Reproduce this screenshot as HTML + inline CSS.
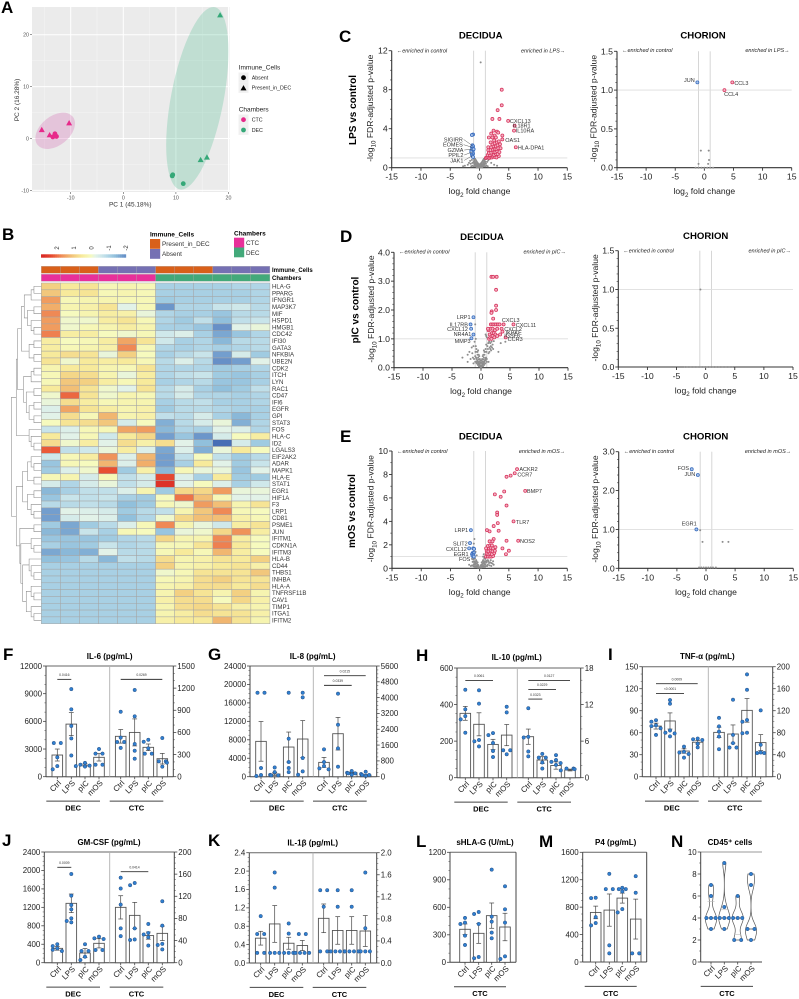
<!DOCTYPE html>
<html lang="en">
<head>
<meta charset="utf-8">
<title>Figure panels A-N</title>
<style>
html,body{margin:0;padding:0;background:#fff;width:799px;height:999px;overflow:hidden}
svg{display:block;filter:blur(0.3px);font-family:"Liberation Sans",Arial,sans-serif}
</style>
</head>
<body>
<svg id="fig" xmlns="http://www.w3.org/2000/svg" width="799" height="999" viewBox="0 0 799 999"></svg>
<script>
/* ---------- PANEL A DATA (PC1, PC2) ---------- */
const pcaCtcTriangles=[[-15.5,1.7],[-14,0.7],[-10.3,3]];
const pcaCtcCircles=[[-13.4,0.3],[-12.7,0.4],[-13,0.9]];
const pcaDecTriangles=[[18.4,23.8],[14.7,-4.1],[15.9,-3.6]];
const pcaDecCircles=[[9.3,-7.2],[9.4,-7],[11.4,-8.7]];
const pcaXTicks=[-10,0,10,20];
const pcaYTicks=[-10,0,10,20];

/* ---------- PANEL B DATA ---------- */
const geneNames=["HLA-G","PPARG","IFNGR1","MAP3K7","MIF","HSPD1","HMGB1","CDC42","IFI30","GATA3","NFKBIA","UBE2N","CDK2","ITCH","LYN","RAC1","CD47","IFI6","EGFR","GPI","STAT3","FOS","HLA-C","ID2","LGALS3","EIF2AK2","ADAR","MAPK1","HLA-E","STAT1","EGR1","HIF1A","F3","LRP1","CD81","PSME1","JUN","IFITM1","CDKN1A","IFITM3","HLA-B","CD44","THBS1","INHBA","HLA-A","TNFRSF11B","CAV1","TIMP1","ITGA1","IFITM2"];
const heatValues=[
[1,.6,.7,.2,.3,.2,-1,-1,-1,-1,-.9,-.9],
[1.1,.6,.7,.2,.3,.2,-1,-1,-1,-1,-1,-.9],
[1.6,.2,.3,.3,.2,.2,-1.1,-1,-1,-1,-1,-.9],
[1.4,.3,.4,.7,-.2,.2,-1.8,-.9,-.9,-.6,-.5,-.8],
[1.8,.1,.3,.5,.4,-.1,-.9,-1,-1,-1.2,-.8,-.8],
[1.6,0,0,.5,.7,.2,-.9,-1.1,-.7,-1.3,-.7,-.6],
[1.6,0,.2,.3,.5,.3,-1,-1,-1.2,-1.9,-.2,-.1],
[1.9,.5,.5,.1,0,.2,-.5,-.3,-1,-1.6,-1.2,-.9],
[.5,.1,.2,.5,1.5,.7,-.5,-1,-.9,-1.4,-.8,-.8],
[.5,.2,.3,.4,1.8,.2,-.9,-1,-.9,-1,-.9,-.8],
[.6,.8,.7,-.1,1,.1,-1,-.8,-.6,-1.7,-.4,-1.1],
[.7,0,.6,.5,.6,.2,-.8,-.3,-.8,-1.9,-1.7,-.2],
[.3,.6,.6,.3,.2,.7,-.9,-.9,-.9,-1.1,-1,-.9],
[.2,.9,.8,.3,-.1,.5,-.9,-.7,-.6,-1.1,-1.2,-1],
[.2,1.1,1,.5,.2,.6,-1,-.9,-.8,-1.2,-1.2,-1],
[.6,1.2,.7,0,-.2,.7,-.8,-.4,-1,-1.3,-1.1,-.7],
[0,2.1,.7,0,.3,.2,-.8,-.4,-.9,-.9,-1,-.9],
[-.1,.8,.5,.2,.3,.3,-1,-.8,-.7,-1,-1,-.9],
[-.3,1.5,.7,.5,.3,.4,-1.1,-.8,-.8,-.9,-1,-1],
[-.2,.8,.2,1.3,.3,.4,-.7,-.8,-.4,-1,-1.4,-1],
[.1,.7,.8,1.1,-.4,.1,-1.5,-.8,-.4,-.1,-1.5,-.9],
[-.6,-.3,.2,.2,1.5,1.6,-1.4,-.9,-1,-.2,-.3,-.9],
[.6,-.2,.2,-.5,.6,.9,-1.7,-1.2,-1.8,-.4,.1,.5],
[.8,0,.5,-.2,.8,.4,.8,-.2,-1.3,-2.5,-.4,-1.1],
[2.2,-.7,-.5,-.1,.5,-.3,-1.6,-.3,-1.5,-.1,.6,.1],
[-.5,.2,.5,1.7,-.3,1.3,-1.7,-.7,.1,-.7,-1.1,-.8],
[-1.2,.2,.1,1.3,-.3,1.4,-1.7,-1,.6,-.2,-1.1,-.6],
[-1.1,-.3,0,2.3,-1.1,.4,-1.4,.2,-.1,-.1,-1.2,-.2],
[.2,.3,-.4,.2,-.7,-.4,2.4,-.3,-1,.6,-1.1,-1.1],
[-.4,-.9,-.4,-.1,-.7,-.4,2.7,-.2,.1,-.3,-1,-.5],
[-1.4,-1,-.7,-.7,-.3,.3,-1.1,.9,.9,1.6,-.1,-.1],
[-1.2,-.6,-.7,-.6,-1,-1.1,.1,2,1.2,.2,-.2,-.2],
[-.8,-.8,-.7,-.8,-1.3,-1.1,.2,0,1.6,1.2,.3,.7],
[-1.7,-.2,-.3,-.4,-1.1,-.8,-.7,.3,1.1,1.8,.2,.1],
[-1.7,-.4,-.2,-.3,-1.3,-.9,0,.9,1.2,1.2,.4,.2],
[-1.1,-1.6,-1.1,-.8,-.3,.2,1.8,.3,-.1,-.5,.5,.7],
[-1.4,-1.6,-.6,-1,.2,.1,-1.2,-.1,0,.9,1.7,.5],
[-1.2,-1.2,-1.2,-1.1,-.9,-.8,.9,.3,.3,1.8,.5,.1],
[-1,-1.2,-1.1,-.6,-.9,-.8,.2,.2,.7,1.9,.6,.1],
[-1.6,-1.4,-1.5,-.2,-.8,-.8,.2,.6,.2,1.3,.5,.1],
[-1.3,-1.2,-.8,-1.4,-.7,-.8,.8,.3,.4,.7,.6,1],
[-1,-1,-1,-1,-1,-1,1,.3,.4,.6,.7,.4],
[-1,-1,-1,-1,-1,-1,0,.2,.7,.7,.7,1.1],
[-1,-1,-1,-1,-1,-1,.2,.3,.8,1,.7,.7],
[-1,-1,-1,-1,-1,-1,.3,.4,.8,.8,.6,.8],
[-1,-1,-1,-1,-1,-1,.3,1,.7,.3,1,.3],
[-1,-1,-1,-1,-1,-1,.4,.8,.8,.1,.9,.4],
[-1,-1,-1,-1,-1,-1,.3,.8,.9,.7,.4,.3],
[-1,-1,-1,-1,-1,-1,.3,.5,.8,.7,.7,.4],
[-1,-1,-1,-1,-1,-1,.4,.6,.6,1.3,.7,.3]];
const immuneGroups=["P","P","P","A","A","A","P","P","P","A","A","A"];
const chamberGroups=["C","C","C","C","C","C","D","D","D","D","D","D"];
const heatLegendTicks=[2,1,0,-1,-2];
const clusterA="(((..).)((..)(.(..))))";
const clusterB="((..)(..))";
const clusterC="(((..).)((..)((..)(..))))";
const clusterD="(.(.(..)))";
const clusterE="((.(..))(..))";
const clusterF="((..)(.(..)))";
const clusterG="((..)((.(..))((.(.(..)))((.(..))(.(..))))))";
const dendrogram="(((("+clusterA+clusterB+")"+clusterC+")"+clusterD+")"+"(("+clusterE+clusterF+")"+clusterG+"))";

/* ---------- VOLCANO DATA (log2FC, -log10 p) ---------- */
const lpsDecGray=[[-.1,.05],[.1,.05],[-.2,.1],[.2,.1],[-.3,.15],[.3,.15],[-.15,.02],[.15,.02],[-.4,.2],[.4,.2],[-.5,.3],[.5,.25],[-.6,.4],[.6,.35],[-.7,.5],[.7,.5],[-.8,.6],[.8,.65],[-.9,.75],[.9,.8],[.95,1],[-.95,.9],[-.3,.3],[.3,.3],[0,.02],[-.5,.1],[.5,.1],[1.1,.4],[1.3,.6],[1.5,.75],[1.2,.9],[1.6,.95],[-1.2,.5],[-1.5,.4],[-1.8,.5],[-2,.3],[-2.5,.2],[-1.3,.8],[-1.6,.7],[-2.8,.15],[2,.5],[2.5,.3],[3,.2],[-.6,.15],[.6,.15],[-.8,.3],[.8,.3],[.2,10.8],[-.05,.15],[.05,.15],[-.1,.25],[.1,.25],[-.2,.3],[.2,.3],[-.25,.45],[.25,.45],[-.35,.5],[.35,.5],[-.45,.6],[.45,.6],[-.55,.7],[.55,.7],[-.65,.8],[.65,.8],[-.75,.9],[.75,.9],[-.85,.35],[.85,.4],[-.15,.35],[.15,.4],[-.4,.35],[.4,.4],[-.6,.25],[.6,.25],[-1,.15],[1,.15],[-1.2,.2],[1.2,.2],[-1.4,.15],[1.4,.15],[-1,.6],[1,.6],[-.9,.45],[.9,.45],[-.7,.15],[.7,.15],[-.3,.05],[.3,.05],[-.45,.03],[.45,.03]];
const lpsDecRed=[[3.8,8],[3.8,6.4],[3.1,5.9],[2.2,5],[3.4,5],[4.9,4.8],[6,4.3],[5.9,3.8],[3.9,3.3],[3.9,2.9],[6.2,2.1],[2.4,3.8],[3,3.7],[3.2,3.6],[2,3.5],[2.6,3.3],[1.6,3.1],[2.2,3.1],[2.8,3.1],[1.1,1],[1.3,1.05],[1.5,1.1],[1.7,1],[1.9,1.1],[2.1,1.05],[2.3,1.15],[2.6,1.1],[2.9,1.05],[3.3,1.2],[1.4,1.3],[1.8,1.3],[2.2,1.35],[2.5,1.3],[2.8,1.4],[3.1,1.4],[1.6,1.5],[2,1.55],[2.4,1.6],[2.7,1.6],[3,1.7],[3.4,1.6],[1.5,1.8],[1.9,1.8],[2.3,1.85],[2.6,1.9],[2.9,1.9],[3.2,2],[3.6,2],[1.5,2.1],[2,2.1],[2.4,2.2],[2.8,2.2],[3.1,2.3],[3.5,2.4],[2.2,2.4],[2.6,2.5],[3,2.6],[3.3,2.7],[1.9,2.6],[2.5,2.8]];
const lpsDecBlue=[[-1.1,3.4],[-1.3,3.35],[-1.2,2.3],[-1.1,2.2],[-1.3,2.1],[-1.2,1.95],[-1.1,1.8],[-1.4,1.75],[-1.2,1.6],[-1.1,1.45],[-1.3,1.35],[-1.2,1.2],[-1.1,1.1],[-1.4,1.6],[-1,1.9]];
const lpsDecLabels=[["CXCL13",5.2,4.8,"start"],["IL18R1",5.7,4.3,"start"],["IL10RA",6.2,3.8,"start"],["OAS1",4.4,2.85,"start"],["HLA-DPA1",6.55,2.05,"start"],["SIGIRR",-2.85,2.9,"end",-1.3,2.3],["EOMES",-2.85,2.36,"end",-1.3,2.1],["GZMA",-2.75,1.81,"end",-1.3,1.9],["PPIL2",-2.75,1.3,"end",-1.3,1.6],["JAK1",-2.75,.75,"end",-1.3,1.2]];
const lpsChoGray=[[-.6,.22],[.75,.22],[.8,.1],[-1,.05],[.65,.05],[-1.5,0],[-1,0],[-.5,0],[0,0],[.5,0],[1,0],[1.5,0]];
const lpsChoRed=[[4.8,1.1],[3.45,1]];
const lpsChoBlue=[[-1.2,1.1]];
const lpsChoLabels=[["JUN",-1.65,1.13,"end"],["CCL3",5.15,1.09,"start"],["CCL4",3.4,.95,"start"]];
const picDecGray=[[0,.03],[-.1,.08],[.1,.08],[-.2,.14],[.2,.14],[-.3,.2],[.3,.2],[-.1,.25],[.1,.25],[-.4,.28],[.4,.28],[-.5,.35],[.5,.35],[-.3,.4],[.3,.4],[-.6,.45],[.6,.45],[-.7,.55],[.7,.55],[-.5,.6],[.5,.6],[-.8,.65],[.8,.65],[-.9,.75],[.9,.8],[-3.2,.35],[-2.3,.45],[-2,.55],[-1.6,.7],[-1.3,.75],[-1.1,.9],[-1.5,.5],[-1,.4],[-1.2,.3],[-.8,.2],[.8,.25],[1,.3],[1.3,.5],[1.2,.65],[1.5,.7],[1.7,.75],[1.9,.7],[2,.8],[1.6,.85],[1.8,.9],[2.1,.65],[2.2,.92],[1.4,.9],[3.4,.85],[4.2,.9],[3,.55],[.9,1.1],[1,1.05],[.8,1.15],[-1,1.5],[-.9,1],[-.05,.02],[.05,.02],[-.15,.05],[.15,.05],[-.25,.08],[.25,.08],[-.35,.12],[.35,.12],[-.45,.16],[.45,.16],[-.55,.2],[.55,.2],[-.65,.25],[.65,.25],[-.75,.3],[.75,.3],[-.85,.35],[.85,.35],[-.2,.3],[.2,.3],[-.4,.45],[.4,.45],[-.6,.55],[.6,.55],[-.05,.18],[.05,.18],[-.35,.05],[.35,.05],[-.55,.1],[.55,.1],[-.75,.15],[.75,.15],[-1,.2],[1,.2],[-1.3,.15],[1.3,.2],[-.95,.55],[.95,.55],[1.1,.75],[1.25,.85],[1.45,.55],[1.75,.6],[1.6,.65],[-1.4,.35],[-1.8,.3],[-2.3,.2]];
const picDecRed=[[1.8,3.15],[2.1,3.15],[2.7,3.15],[2.6,2.7],[2.6,2.15],[2.6,2],[1.85,1.95],[1.8,1.9],[2.1,1.7],[3.9,1.5],[5.6,1.5],[3.55,1.35],[3.7,1.25],[3.3,1.15],[4.25,1.05],[1.4,1],[1.6,1.05],[1.8,1],[2,1.1],[2.3,1.05],[1.5,1.15],[1.9,1.2],[2.2,1.2],[2.5,1.15],[2.8,1.1],[1.3,1.3],[1.6,1.35],[2,1.35],[2.4,1.3],[2.8,1.35],[1.2,1.35],[1.7,1.5],[2,1.5],[2.3,1.5],[2.6,1.5],[2.9,1.5],[3.2,1.5]];
const picDecBlue=[[-1.3,1.75],[-1.8,1.5],[-1.7,1.35],[-1.3,1.15],[-1.65,1.02]];
const picDecLabels=[["LRP1",-1.8,1.76,"end"],["IL17RB",-2.25,1.5,"end"],["CXCL12",-2.25,1.34,"end"],["NR4A1",-1.67,1.17,"end"],["MMP3",-1.8,.92,"end"],["CXCL3",3.6,1.65,"start"],["CXCL11",6,1.48,"start"],["CXCL2",4,1.34,"start"],["IKBKE",4.25,1.22,"start"],["IGSF6",4,1.12,"start"],["CCR3",4.6,.99,"start"]];
const picChoGray=[[-.9,1],[-3.5,0],[-3,0],[-2.5,0],[-2,0],[-1.5,0],[-1,0],[-.5,0],[0,0],[.5,0],[1,0],[1.5,0],[2,0],[2.5,0],[3,0],[3.5,0],[4,0],[4.5,0]];
const picChoRed=[];
const picChoBlue=[];
const picChoLabels=[];
const mosDecGray=[[0,.05],[-.2,.1],[.2,.1],[-.4,.15],[.4,.15],[-.6,.2],[.6,.2],[-.8,.3],[.8,.3],[-1,.35],[1,.35],[-.3,.3],[.3,.3],[-.5,.4],[.5,.4],[-.7,.5],[.7,.5],[-.9,.6],[.9,.6],[-1.2,.55],[1.2,.5],[-.6,.7],[.6,.7],[-.8,.85],[.8,.85],[-.9,.95],[.9,.95],[1.4,.3],[1.7,.25],[2,.2],[2.4,.3],[1.5,.6],[1.9,.7],[2.3,.6],[-1.5,.2],[-1.8,.3],[-1.3,.8],[-.9,2.5],[-1,2.1],[-.7,1.4],[.6,1],[.7,1.2],[-.5,1.1],[-.1,.1],[.1,.1],[-.3,.08],[.3,.08],[-.5,.12],[.5,.12],[-.7,.12],[.7,.12],[-.9,.15],[.9,.15],[-1.1,.2],[1.1,.2],[-1.3,.25],[1.3,.2],[-.2,.25],[.2,.25],[-.4,.3],[.4,.3],[-.6,.4],[.6,.4],[-.8,.45],[.8,.45],[-1,.55],[1,.55],[1.2,.65],[1.4,.7],[1.6,.45],[1.8,.5],[2,.45],[2.2,.4],[-1.1,.75],[-.95,.8],[.95,.8],[-.35,.5],[.35,.5],[-.55,.6],[.55,.6]];
const mosDecRed=[[6.4,8.45],[6,8.1],[5.3,7.9],[4.6,7.8],[7.8,6.6],[4.2,6.55],[2.6,6.3],[3.6,6.1],[4.6,5.35],[3,4.75],[3,4.55],[5.8,4],[3.1,3.85],[2.4,3.6],[1.25,3.25],[1.7,3.15],[3.25,3.2],[2.4,2.5],[6.6,2.35],[4.6,2.35],[1.7,2.3],[2.2,2.3],[3.9,1.7],[5,1.5],[4.5,1.2],[1.1,1],[1.4,1],[1.7,1],[2,1],[2.3,1.05],[1.2,1.25],[1.5,1.2],[1.8,1.25],[2.1,1.2],[2.5,1.3],[1.2,1.5],[1.5,1.45],[1.9,1.5],[2.2,1.45],[2.6,1.5],[1.1,1.7],[1.6,1.7],[1.9,1.75],[2.3,1.7],[2.7,1.8],[1.4,1.9],[1.8,1.95],[2.1,1.95]];
const mosDecBlue=[[-1.5,3.25],[-1.65,2.15],[-1.8,1.7],[-1.1,1.7],[-.95,1.65],[-1.2,1.3],[-1,1.3],[-1.3,1.2],[-1.1,1.15],[-1.2,1.05],[-1,1]];
const mosDecLabels=[["ACKR2",6.8,8.44,"start"],["CCR7",6.45,8,"start"],["BMP7",8.1,6.6,"start"],["TLR7",6.2,3.92,"start"],["NOS2",6.9,2.3,"start"],["LRP1",-1.95,3.24,"end"],["SLIT2",-2.05,2.1,"end"],["CXCL12",-2.2,1.65,"end"],["EGR1",-1.9,1.22,"end"],["FOS",-1.6,.77,"end"]];
const mosChoGray=[[-1,.98],[-.6,.68],[2.85,.68],[3.85,.68],[-1.2,.02],[-.8,.02],[-.4,.02],[0,.02],[.4,.02],[.8,.02],[1.2,.02],[1.7,.02]];
const mosChoRed=[];
const mosChoBlue=[[-2.45,2.55],[-1.4,2.4],[-1.65,1]];
const mosChoLabels=[["FOS",-2.9,2.58,"end"],["JUN",-1.85,2.42,"end"],["EGR1",-1.6,1.15,"end"]];
const volcanoXTicks=[-15,-10,-5,0,5,10,15];
const lpsDecYTicks=[0,4,8,12];
const lpsChoYTicks=[0,.5,1,1.5];
const picDecYTicks=[0,1,2,3,4];
const picChoYTicks=[0,.5,1,1.5];
const mosDecYTicks=[0,2,4,6,8,10];
const mosChoYTicks=[0,1,2,3];

/* ---------- BAR CHART DATA ---------- */
const conditionLabels=["Ctrl","LPS","pIC","mOS"];
const il6Means=[2350,5700,1250,2100,547,600,398,244];
const il6Sems=[650,1250,150,400,92,183,45,72];
const il6Points=[[3650,3650,2100,1150,800],[9500,7300,5500,4150,2300],[1500,1300,1200,1150,1100],[3000,2500,2500,1300,1300],[880,530,470,470,390],[1175,818,443,352,244],[500,473,384,312,312],[524,208,208,190,136]];
const il6LeftTicks=[0,3000,6000,9000,12000];
const il6RightTicks=[0,300,600,900,1200,1500];
const il6Brackets=[[0,1,10550,"0.0416"],[4,7,10550,"0.0269"]];
const il8Means=[7660,580,6430,8170,725,2175,200,85];
const il8Sems=[4300,300,3250,4000,253,825,30,25];
const il8Points=[[18200,18200,1880,360,150],[2000,1000,400,300,300],[18200,8240,3180,1880,1000],[18200,17200,4050,1150,430],[1383,742,540,421,371],[4200,2630,1433,506],[287,200,170,170,100],[250,135,85,85,35]];
const il8LeftTicks=[0,4000,8000,12000,16000,20000,24000];
const il8RightTicks=[0,800,1600,2400,3200,4000,4800,5600];
const il8Brackets=[[4,7,21900,"0.0215"],[4,6,19800,"0.0339"]];
const il10Means=[352,292,182,233,6.73,2.9,2,1.26];
const il10Sems=[38,63,28,58,1.25,.55,.6,.15];
const il10Points=[[481,374,337,319,246],[478,405,206,199,171],[244,233,190,146,113],[388,357,150,150,128],[11.4,6.7,6.6,4.3,3.5],[3.9,3.3,3.3,2.5,1.5],[3.7,2.9,2.6,2.4,2.1],[1.5,1.5,1.4,1.2]];
const il10LeftTicks=[0,200,400,600];
const il10RightTicks=[0,6,12,18];
const il10Brackets=[[0,2,532,"0.0061"],[4,7,532,"0.0127"],[4,6,483,"0.0229"],[4,5,430,"0.0323"]];
const tnfMeans=[69,76,35,47,80.6,77.6,120.6,62];
const tnfSems=[4,11,3,2.3,9.5,16.5,21.5,14.5];
const tnfPoints=[[77,75,70,69,66,57],[104.5,99.5,63,60,59,55],[41,34,33,31,26],[52,51,50,45,40],[107,91.5,82,73,50],[140,76,61,53,53],[186,158,103,100,80,79],[120.6,58,44,43,43]];
const tnfLeftTicks=[0,30,60,90,120,150];
const tnfRightTicks=[0,40,80,120,160,200];
const tnfBrackets=[[0,3,126.8,"0.0009"],[0,2,113.6,"<0.0001"]];
const gmcsfMeans=[311,1287,210,420,100,85.5,49,53];
const gmcsfSems=[40,202,97,100,21,23.5,6.5,13];
const gmcsfPoints=[[400,360,311,280,253],[1923,1453,1250,1157,962,904,875],[400,253,253,130,58],[564,528,513,275,275],[153.6,134,105,62,48],[144,140,62,42,41],[70,53.6,51,46,31],[111,67,34,32,24]];
const gmcsfLeftTicks=[0,400,800,1200,1600,2000,2400];
const gmcsfRightTicks=[0,40,80,120,160,200];
const gmcsfBrackets=[[0,1,2068,"0.0009"],[4,6,1973,"0.0414"]];
const il1bMeans=[.54,.85,.43,.38,.81,.59,.59,.58];
const il1bSems=[.15,.4,.13,.11,.26,.25,.25,.28];
const il1bPoints=[[1.02,.63,.63,.22,.22],[1.97,1.64,.22,.22,.22],[.86,.64,.22,.22,.22],[.63,.63,.22,.22,.22,.22],[1.32,1.32,1.02,.21,.21],[1.32,1.02,.21,.21,.21,.21],[1.32,1.02,.21,.21,.21,.21],[1.64,.63,.21,.21,.21]];
const il1bLeftTicks=[0,.4,.8,1.2,1.6,2,2.4];
const il1bRightTicks=[0,.4,.8,1.2,1.6,2];
const il1bBrackets=[];
const shlagMeans=[360,316,509,385];
const shlagSems=[58,109,138,150];
const shlagPoints=[[484,433,418,291,189],[549,527,418,58,44],[1011,498,444,324,262],[829,578,433,65,36]];
const shlagLeftTicks=[0,300,600,900,1200];
const p4Means=[723,757,932,626];
const p4Sems=[92,235,73,291];
const p4Points=[[937,932,655,568,534],[1286,1063,1063,243,126],[1082,1063,1063,1029,772,723],[1252,1010,126,126]];
const p4LeftTicks=[0,400,800,1200,1600];
const cd45Points=[[7,6,4,4,4,3],[9,5,4,4,4,3],[6,4,4,4,2,2],[8,7,3,3,2]];
const cd45Ticks=[0,2,4,6,8,10];

/* ---------- HELPERS ---------- */
const NS="http://www.w3.org/2000/svg";
const fig=document.getElementById("fig");
function el(tag,attrs,parent){
  const e=document.createElementNS(NS,tag);
  for(const k in attrs)e.setAttribute(k,attrs[k]);
  (parent||fig).appendChild(e);
  return e;
}
function group(name,parent){
  const g=el("g",{},parent);
  
  
  return g;
}
function linear(d0,d1,r0,r1){return v=>r0+(v-d0)*(r1-r0)/(d1-d0);}
function txt(parent,name,x,y,str,o){
  o=o||{};
  const s=o.size||8;
  const a={x:x,y:y+0.35*s,"font-size":s,fill:o.fill||"#222","text-anchor":o.anchor||"middle"};
  if(o.weight)a["font-weight"]=o.weight;
  if(o.italic)a["font-style"]="italic";
  if(o.rot!==undefined)a.transform="rotate("+o.rot+" "+x+" "+y+")";
  const t=el("text",a,parent);
  
  
  t.textContent=str;
  return t;
}
function ln(parent,name,x1,y1,x2,y2,stroke,w){
  const l=el("line",{x1:x1,y1:y1,x2:x2,y2:y2,stroke:stroke,"stroke-width":w},parent);
  
  
  return l;
}
function panelLetter(letter,x,y){
  const t=el("text",{x:x,y:y,"font-size":17,"font-weight":"bold",fill:"#000"});
  
  
  t.textContent=letter;
}
function subTitle(parent,name,x,y,base,sub,rest,rot,size){
  const a={x:x,y:y+0.35*size,"font-size":size,fill:"#222","text-anchor":"middle"};
  if(rot)a.transform="rotate("+rot+" "+x+" "+y+")";
  const t=el("text",a,parent);
  
  
  const s1=el("tspan",{},t);s1.textContent=base;
  const s2=el("tspan",{dy:size*0.3,"font-size":size*0.72},t);s2.textContent=sub;
  const s3=el("tspan",{dy:-size*0.3},t);s3.textContent=rest;
}

/* ---------- PANEL LETTERS ---------- */
[["A",1,13],["B",2,240],["C",339,42],["D",340,242],["E",340,442],["F",3,660],["G",208,660],["H",416,661],["I",608,660],["J",2,846],["K",208,846],["L",416,847],["M",539,847],["N",671,847]].forEach(p=>panelLetter(p[0],p[1],p[2]));

/* ---------- PANEL A ---------- */
(function(){
  const g=group("pca-plot");
  const X=linear(0,10,123.3,175.9),Y=linear(0,10,138.5,86.6);
  const bg=el("rect",{x:32,y:7,width:197.5,height:185,fill:"#ebebeb"},g);
  
  
  [-15,-5,5,15].forEach(v=>ln(g,"pca-minor-gridline",X(v),7,X(v),192,"#f6f6f6",.5));
  [-5,5,15].forEach(v=>ln(g,"pca-minor-gridline",32,Y(v),229.5,Y(v),"#f6f6f6",.5));
  pcaXTicks.forEach(v=>{
    ln(g,"pca-x-gridline",X(v),7,X(v),192,"#fff",1);
    ln(g,"pca-x-tick",X(v),192,X(v),194,"#555",.6);
    txt(g,"pca-x-tick-label",X(v),197.5,String(v),{size:5.3,fill:"#555"});
  });
  pcaYTicks.forEach(v=>{
    ln(g,"pca-y-gridline",32,Y(v),229.5,Y(v),"#fff",1);
    ln(g,"pca-y-tick",30,Y(v),32,Y(v),"#555",.6);
    txt(g,"pca-y-tick-label",29,Y(v),String(v),{size:5.3,fill:"#555",anchor:"end"});
  });
  const e1=el("ellipse",{cx:X(-12.95),cy:Y(1.48),rx:22.6,ry:14.6,fill:"#d36ab4","fill-opacity":.3,transform:"rotate(-39 "+X(-12.95)+" "+Y(1.48)+")"},g);
  
  
  const e2=el("ellipse",{cx:X(14.07),cy:Y(7.75),rx:26.3,ry:92.8,fill:"#54bd94","fill-opacity":.28,transform:"rotate(10.8 "+X(14.07)+" "+Y(7.75)+")"},g);
  
  
  function tri(x,y,c,parent,name){
    const p=el("polygon",{points:(x-3)+","+(y+2.4)+" "+(x+3)+","+(y+2.4)+" "+x+","+(y-2.9),fill:c},parent);
    
    
  }
  function dot(x,y,c,parent,name){
    const p=el("circle",{cx:x,cy:y,r:2.4,fill:c},parent);
    
    
  }
  pcaCtcCircles.forEach(d=>dot(X(d[0]),Y(d[1]),"#e7298a",g,"ctc-absent-point"));
  pcaCtcTriangles.forEach(d=>tri(X(d[0]),Y(d[1]),"#e7298a",g,"ctc-present-point"));
  pcaDecCircles.forEach(d=>dot(X(d[0]),Y(d[1]),"#35a878",g,"dec-absent-point"));
  pcaDecTriangles.forEach(d=>tri(X(d[0]),Y(d[1]),"#35a878",g,"dec-present-point"));
  txt(g,"pca-x-axis-title",130.3,204,"PC 1 (45.18%)",{size:6.5,fill:"#333"});
  txt(g,"pca-y-axis-title",16.7,100,"PC 2 (16.28%)",{size:6.5,fill:"#333",rot:-90});
  const lg=group("pca-legend");
  txt(lg,"immune-cells-legend-title",238.7,67,"Immune_Cells",{size:6.5,anchor:"start"});
  txt(lg,"chambers-legend-title",238.7,109,"Chambers",{size:6.5,anchor:"start"});
  [[72.5],[82.7],[114.5],[124.7]].forEach(r=>{
    const b=el("rect",{x:238.5,y:r[0],width:10,height:10.2,fill:"#f0f0f0"},lg);
    
    
  });
  dot(243.5,77.7,"#000",lg,"legend-absent-symbol");
  tri(243.5,88,"#000",lg,"legend-present-symbol");
  dot(243.5,119.7,"#e7298a",lg,"legend-ctc-symbol");
  dot(243.5,130,"#35a878",lg,"legend-dec-symbol");
  txt(lg,"legend-absent-label",251.7,77.7,"Absent",{size:5.3,anchor:"start"});
  txt(lg,"legend-present-label",251.7,87.7,"Present_in_DEC",{size:5.3,anchor:"start"});
  txt(lg,"legend-ctc-label",251.7,119.7,"CTC",{size:5.3,anchor:"start"});
  txt(lg,"legend-dec-label",251.7,130,"DEC",{size:5.3,anchor:"start"});
})();

/* ---------- PANEL B ---------- */
const heatStops=[[-2.6,[66,104,178]],[-1.8,[108,150,202]],[-1.3,[145,192,220]],[-1,[168,208,228]],[-.6,[200,228,234]],[-.2,[226,242,232]],[.1,[246,250,190]],[.6,[247,234,155]],[1,[243,208,130]],[1.5,[240,165,100]],[1.9,[238,128,80]],[2.3,[232,78,50]],[2.8,[218,44,38]]];
function heatColor(v){
  if(v<=heatStops[0][0])return "rgb("+heatStops[0][1]+")";
  for(let i=1;i<heatStops.length;i++){
    if(v<=heatStops[i][0]){
      const a=heatStops[i-1],b=heatStops[i],t=(v-a[0])/(b[0]-a[0]);
      return "rgb("+a[1].map((c,k)=>Math.round(c+(b[1][k]-c)*t)).join(",")+")";
    }
  }
  return "rgb("+heatStops[heatStops.length-1][1]+")";
}
(function(){
  const g=group("expression-heatmap");
  const x0=41.3,cw=19.05,y0=283,rh=6.814;
  const immuneColors={P:"#d9601a",A:"#7570b3"},chamberColors={C:"#e8309a",D:"#43a97a"};
  immuneGroups.forEach((k,c)=>{
    const r=el("rect",{x:x0+c*cw,y:266.3,width:cw,height:7,fill:immuneColors[k],stroke:"#aaa","stroke-width":.3},g);
    
    
  });
  chamberGroups.forEach((k,c)=>{
    const r=el("rect",{x:x0+c*cw,y:274.3,width:cw,height:7,fill:chamberColors[k],stroke:"#aaa","stroke-width":.3},g);
    
    
  });
  txt(g,"immune-cells-annotation-label",272,270,"Immune_Cells",{size:6,weight:"bold",anchor:"start",fill:"#000"});
  txt(g,"chambers-annotation-label",272,277.8,"Chambers",{size:6,weight:"bold",anchor:"start",fill:"#000"});
  heatValues.forEach((row,r)=>{
    row.forEach((v,c)=>{
      const cell=el("rect",{x:x0+c*cw,y:y0+r*rh,width:cw,height:rh,fill:heatColor(v),stroke:"#a5a5a5","stroke-width":.5},g);
      
      
    });
    txt(g,"gene-label",272,y0+r*rh+rh/2,geneNames[r],{size:6.1,anchor:"start",fill:"#333"});
  });
  /* dendrogram */
  let pos=0,leaf=0,d="";
  function parse(){
    if(dendrogram[pos]==="."){pos++;const y=y0+(leaf+.5)*rh;leaf++;return {x:x0,y:y,n:1};}
    pos++;
    const a=parse(),b=parse();
    pos++;
    const n=a.n+b.n,x=x0-(2.5+7*Math.log(n));
    d+="M"+a.x+" "+a.y+"H"+x+"V"+b.y+"H"+b.x;
    return {x:x,y:(a.y+b.y)/2,n:n};
  }
  parse();
  const tree=el("path",{d:d,fill:"none",stroke:"#8a8a8a","stroke-width":.55},g);
  
  
  /* colour legend */
  const lg=group("heatmap-color-legend");
  const lx=linear(2,-2,56.7,126);
  for(let i=0;i<43;i++){
    const v=2.9-i*0.114;
    const s=el("rect",{x:lx(v)-.1,y:254.3,width:2.2,height:3.4,fill:heatColor(v)},lg);
    
    
  }
  heatLegendTicks.forEach(v=>txt(lg,"color-scale-tick",lx(v),248,String(v),{size:6,rot:-90,fill:"#333"}));
  const ag=group("annotation-legend");
  txt(ag,"immune-cells-legend-title",150,234,"Immune_Cells",{size:6.5,weight:"bold",anchor:"start",fill:"#000"});
  txt(ag,"chambers-legend-title",234,233,"Chambers",{size:6.5,weight:"bold",anchor:"start",fill:"#000"});
  [[150,239,"#d9601a","present-swatch"],[150,249,"#7570b3","absent-swatch"],[234,237.7,"#e8309a","ctc-swatch"],[234,247.5,"#43a97a","dec-swatch"]].forEach(s=>{
    const r=el("rect",{x:s[0],y:s[1],width:10.2,height:9.8,fill:s[2]},ag);
    
    
  });
  txt(ag,"present-legend-label",162,244,"Present_in_DEC",{size:6.4,anchor:"start",fill:"#333"});
  txt(ag,"absent-legend-label",162,253.7,"Absent",{size:6.4,anchor:"start",fill:"#333"});
  txt(ag,"ctc-legend-label",246,242.7,"CTC",{size:6.4,anchor:"start",fill:"#333"});
  txt(ag,"dec-legend-label",246,252.7,"DEC",{size:6.4,anchor:"start",fill:"#333"});
})();

/* ---------- VOLCANOES ---------- */
const volcanoes=[
 {id:"lps-decidua",title:"DECIDUA",tx:480.7,ty:35,xa:391.7,xb:567.3,yt:50.7,yb:167.7,ymax:12,ticks:lpsDecYTicks,dec:0,minor:4,gray:lpsDecGray,red:lpsDecRed,blue:lpsDecBlue,labels:lpsDecLabels,agent:"LPS",ytx:370,ytopText:50.7},
 {id:"lps-chorion",title:"CHORION",tx:703,ty:35,xa:617,xb:791.7,yt:51.3,yb:167.7,ymax:1.5,ticks:lpsChoYTicks,dec:1,minor:5,gray:lpsChoGray,red:lpsChoRed,blue:lpsChoBlue,labels:lpsChoLabels,agent:"LPS",ytx:593.3,ytopText:50},
 {id:"pic-decidua",title:"DECIDUA",tx:482,ty:236.7,xa:394,xb:568,yt:252.3,yb:367.7,ymax:4,ticks:picDecYTicks,dec:1,minor:5,gray:picDecGray,red:picDecRed,blue:picDecBlue,labels:picDecLabels,agent:"pIC",ytx:371,ytopText:251.5},
 {id:"pic-chorion",title:"CHORION",tx:705.7,ty:235.7,xa:618.3,xb:793,yt:250.7,yb:367,ymax:1.5,ticks:picChoYTicks,dec:1,minor:5,gray:picChoGray,red:picChoRed,blue:picChoBlue,labels:picChoLabels,agent:"pIC",ytx:595,ytopText:250.7},
 {id:"mos-decidua",title:"DECIDUA",tx:480.7,ty:436,xa:392,xb:567.3,yt:451,yb:568.3,ymax:10,ticks:mosDecYTicks,dec:0,minor:2,gray:mosDecGray,red:mosDecRed,blue:mosDecBlue,labels:mosDecLabels,agent:"mOS",ytx:370.7,ytopText:451},
 {id:"mos-chorion",title:"CHORION",tx:705.7,ty:436,xa:618.7,xb:793.3,yt:451.7,yb:568.3,ymax:3,ticks:mosChoYTicks,dec:1,minor:5,gray:mosChoGray,red:mosChoRed,blue:mosChoBlue,labels:mosChoLabels,agent:"mOS",ytx:595,ytopText:451.3}
];
volcanoes.forEach(v=>{
  const g=group("volcano-"+v.id);
  const X=linear(-15,15,v.xa,v.xb),Y=linear(0,v.ymax,v.yb,v.yt);
  const axisDark="#333";
  txt(g,"volcano-title",v.tx,v.ty,v.title,{size:9.6,weight:"bold",fill:"#000"});
  ln(g,"threshold-line-negative",X(-1),v.yt,X(-1),v.yb,"#d2d2d2",.9);
  ln(g,"threshold-line-positive",X(1),v.yt,X(1),v.yb,"#d2d2d2",.9);
  ln(g,"significance-line",v.xa,Y(1),v.xb,Y(1),"#dedede",.9);
  ln(g,"x-axis-line",v.xa,v.yb,v.xb,v.yb,axisDark,1.1);
  ln(g,"y-axis-line",v.xa,v.yt,v.xa,v.yb,axisDark,1.1);
  volcanoXTicks.forEach(t=>{
    ln(g,"x-tick",X(t),v.yb,X(t),v.yb+3,axisDark,.9);
    txt(g,"x-tick-label",X(t),v.yb+9,String(t),{size:8.7});
  });
  v.ticks.forEach((t,i)=>{
    ln(g,"y-tick",v.xa-3,Y(t),v.xa,Y(t),axisDark,.9);
    txt(g,"y-tick-label",v.xa-4,Y(t),t.toFixed(v.dec),{size:8.7,anchor:"end"});
    if(i<v.ticks.length-1){
      const step=(v.ticks[i+1]-t)/v.minor;
      for(let k=1;k<v.minor;k++)ln(g,"y-minor-tick",v.xa-1.7,Y(t+k*step),v.xa,Y(t+k*step),axisDark,.6);
    }
  });
  txt(g,"enriched-control-note",v.xa+5,v.ytopText,"←enriched in control",{size:5.5,italic:true,anchor:"start",fill:"#222"});
  txt(g,"enriched-treatment-note",v.xb-2,v.ytopText,"enriched in "+v.agent+"→",{size:5.5,italic:true,anchor:"end",fill:"#222"});
  subTitle(g,"x-axis-title",(v.xa+v.xb)/2,v.yb+23.5,"log","2"," fold change",0,8.6);
  subTitle(g,"y-axis-title",v.ytx,(v.yt+v.yb)/2-1,"-log","10"," FDR-adjusted p-value",-90,8.6);
  v.gray.forEach(p=>{
    const c=el("circle",{cx:X(p[0]),cy:Y(p[1]),r:1,fill:"#8d8d8d"},g);
    
    
  });
  v.red.forEach(p=>{
    const c=el("circle",{cx:X(p[0]),cy:Y(p[1]),r:1.5,fill:"#f4b4c4",stroke:"#d8365f","stroke-width":.8},g);
    
    
  });
  v.blue.forEach(p=>{
    const c=el("circle",{cx:X(p[0]),cy:Y(p[1]),r:1.5,fill:"#a9c4ea",stroke:"#3a6dbe","stroke-width":.8},g);
    
    
  });
  v.labels.forEach(l=>{
    if(l.length>4)ln(g,"gene-leader-line",X(l[1])+.8,Y(l[2]),X(l[4]),Y(l[5]),"#333",.4);
    txt(g,"gene-label",X(l[1]),Y(l[2]),l[0],{size:5.5,anchor:l[3],fill:"#333"});
  });
});
[[352.3,110,"LPS vs control"],[355,310,"pIC vs control"],[351.7,511,"mOS vs control"]].forEach(r=>{
  txt(fig,"comparison-row-label",r[0],r[1],r[2],{size:10,weight:"bold",rot:-90,fill:"#000"});
});

/* ---------- BAR PANELS ---------- */
const barCharts=[
 {id:"il-6",title:"IL-6 (pg/mL)",tx:109.7,ty:656,L:46,R:173.3,T:666,B:776.7,sep:109.7,cx:[57.3,71.3,85,99,120.7,134.7,148.3,162.3],means:il6Means,sems:il6Sems,pts:il6Points,lt:il6LeftTicks,rt:il6RightTicks,br:il6Brackets,minorL:3,minorR:3},
 {id:"il-8",title:"IL-8 (pg/mL)",tx:312.7,ty:656,L:250,R:376.7,T:666,B:776.7,sep:313.3,cx:[261,274.7,288.7,302.7,324,338,351.7,365.7],means:il8Means,sems:il8Sems,pts:il8Points,lt:il8LeftTicks,rt:il8RightTicks,br:il8Brackets,minorL:4,minorR:4},
 {id:"il-10",title:"IL-10 (pg/mL)",tx:516.7,ty:657.3,L:457,R:580.7,T:668,B:777.7,sep:517.3,cx:[465.3,479,493,506.7,528.3,542.3,556,570],means:il10Means,sems:il10Sems,pts:il10Points,lt:il10LeftTicks,rt:il10RightTicks,br:il10Brackets,minorL:4,minorR:3},
 {id:"tnf-alpha",title:"TNF-α (pg/mL)",tx:707.3,ty:656.3,L:642.3,R:772.7,T:666.7,B:776.7,sep:708.3,cx:[656,670,684,697.7,719,733,747,760.7],means:tnfMeans,sems:tnfSems,pts:tnfPoints,lt:tnfLeftTicks,rt:tnfRightTicks,br:tnfBrackets,minorL:3,minorR:4},
 {id:"gm-csf",title:"GM-CSF (pg/mL)",tx:109,ty:842,L:44.3,R:174.3,T:852,B:962.7,sep:109.7,cx:[57.3,71.3,85,99,120.7,134.7,148.3,162.3],means:gmcsfMeans,sems:gmcsfSems,pts:gmcsfPoints,lt:gmcsfLeftTicks,rt:gmcsfRightTicks,br:gmcsfBrackets,minorL:4,minorR:4},
 {id:"il-1-beta",title:"IL-1β (pg/mL)",tx:312.7,ty:842.7,L:249.3,R:376.7,T:852.7,B:963,sep:313,cx:[260.7,274.7,288.7,302.3,323.7,337.7,351.7,365.3],means:il1bMeans,sems:il1bSems,pts:il1bPoints,lt:il1bLeftTicks,rt:il1bRightTicks,br:il1bBrackets,dec:1,minorL:4,minorR:4},
 {id:"shla-g",title:"sHLA-G (U/mL)",tx:485,ty:842,L:450,R:516,T:852.3,B:962.3,cx:[465,478.7,491.7,505],means:shlagMeans,sems:shlagSems,pts:shlagPoints,lt:shlagLeftTicks,br:[],minorL:3},
 {id:"p4",title:"P4 (pg/mL)",tx:615.7,ty:842,L:582.7,R:646.7,T:852.3,B:962,cx:[595.7,609.3,622.3,635.7],means:p4Means,sems:p4Sems,pts:p4Points,lt:p4LeftTicks,br:[],minorL:4}
];
function swarmOffsets(vals,scale){
  const idx=vals.map((v,i)=>i).sort((a,b)=>vals[b]-vals[a]);
  const off=new Array(vals.length).fill(0);
  const slots=[0,-4.6,4.6,-9.2,9.2,-13.8,13.8];
  const placed=[];
  idx.forEach(i=>{
    const y=scale(vals[i]);
    let chosen=slots[slots.length-1];
    for(const s of slots){
      if(placed.every(p=>(p[0]-s)*(p[0]-s)+(p[1]-y)*(p[1]-y)>=12.5)){chosen=s;break;}
    }
    off[i]=chosen;
    placed.push([chosen,y]);
  });
  const rows={};
  vals.forEach((v,i)=>{(rows[v]=rows[v]||[]).push(i);});
  Object.keys(rows).forEach(k=>{
    const r=rows[k];
    if(r.length<2)return;
    if(r.length===2){off[r[0]]=-3.5;off[r[1]]=3.5;return;}
    const mean=r.reduce((s,i)=>s+off[i],0)/r.length;
    r.forEach(i=>{off[i]-=mean;});
  });
  return off;
}
function yAxis(g,x,side,ticks,scale,minor,dec,dark){
  ln(g,"y-axis-line-"+(side<0?"left":"right"),x,scale(ticks[ticks.length-1]),x,scale(0),dark,1);
  ticks.forEach((t,i)=>{
    ln(g,"y-tick",x,scale(t),x+side*3,scale(t),dark,.8);
    txt(g,"y-tick-label",x+side*4,scale(t),dec?t.toFixed(dec):String(t),{size:7.9,anchor:side<0?"end":"start"});
    if(i<ticks.length-1){
      const st=(ticks[i+1]-t)/minor;
      for(let k=1;k<minor;k++)ln(g,"y-minor-tick",x,scale(t+k*st),x+side*1.6,scale(t+k*st),dark,.5);
    }
  });
}
function xLabels(g,cx,B){
  cx.forEach((x,i)=>{
    ln(g,"x-tick",x,B,x,B+2.5,"#444",.8);
    const px=x+2.5,py=B+5;
    const t=el("text",{x:px,y:py+2.6,"font-size":7.9,fill:"#222","text-anchor":"end",transform:"rotate(-45 "+px+" "+py+")"},g);
    
    
    t.textContent=conditionLabels[i%4];
  });
}
function groupBars(g,cx,B,offset,name){
  ln(g,name+"-group-line",cx[offset]-11,B+24.4,cx[offset+3]+1,B+24.4,"#444",1);
  txt(g,name+"-group-label",(cx[offset]-11+cx[offset+3]+1)/2,B+31.3,name,{size:7.5,weight:"bold",fill:"#000"});
}
barCharts.forEach(c=>{
  const g=group("bar-chart-"+c.id);
  const dark="#444";
  const yL=linear(0,c.lt[c.lt.length-1],c.B,c.T);
  const yR=c.rt?linear(0,c.rt[c.rt.length-1],c.B,c.T):null;
  txt(g,"chart-title",c.tx,c.ty,c.title,{size:8,weight:"bold",fill:"#000"});
  ln(g,"top-border",c.L,c.T,c.R,c.T,"#666",1);
  ln(g,"x-axis-line",c.L,c.B,c.R,c.B,dark,1);
  if(c.sep)ln(g,"group-separator",c.sep,c.T,c.sep,c.B,"#b0b0b0",.9);
  c.means.forEach((m,i)=>{
    const s=i<4?yL:yR,x=c.cx[i];
    const bar=el("rect",{x:x-5.3,y:s(m),width:10.6,height:c.B-s(m),fill:"#fff",stroke:"#555","stroke-width":.9},g);
    
    
    const up=s(m+c.sems[i]),dn=s(Math.max(0,m-c.sems[i]));
    ln(g,"error-bar",x,up,x,dn,"#444",.7);
    ln(g,"error-cap",x-2.4,up,x+2.4,up,"#444",.7);
    ln(g,"error-cap",x-2.4,dn,x+2.4,dn,"#444",.7);
    const off=swarmOffsets(c.pts[i],s);
    c.pts[i].forEach((v,k)=>{
      const dot=el("circle",{cx:x+off[k],cy:s(v),r:1.75,fill:"#2f7fd0",stroke:"#2b4f80","stroke-width":.5},g);
      
      
    });
  });
  yAxis(g,c.L,-1,c.lt,yL,c.minorL,c.dec,dark);
  if(c.rt)yAxis(g,c.R,1,c.rt,yR,c.minorR,c.dec,dark);
  else ln(g,"right-border",c.R,c.T,c.R,c.B,dark,1);
  xLabels(g,c.cx,c.B);
  if(c.cx.length===8){groupBars(g,c.cx,c.B,0,"DEC");groupBars(g,c.cx,c.B,4,"CTC");}
  else groupBars(g,c.cx,c.B,0,"CTC");
  c.br.forEach(b=>{
    const y=yL(b[2]);
    ln(g,"significance-bracket",c.cx[b[0]],y,c.cx[b[1]],y,"#333",.9);
    txt(g,"p-value-label",(c.cx[b[0]]+c.cx[b[1]])/2,y-4.5,b[3],{size:3.4,fill:"#333"});
  });
});

/* ---------- PANEL N: VIOLINS ---------- */
(function(){
  const g=group("violin-chart-cd45");
  const L=700.7,R=762,T=852,B=962,cx=[711,724.3,737.7,751];
  const Y=linear(0,cd45Ticks[cd45Ticks.length-1],B,T);
  txt(g,"chart-title",730,842,"CD45⁺ cells",{size:8,weight:"bold",fill:"#000"});
  ln(g,"top-border",L,T,R,T,"#999",1);
  ln(g,"x-axis-line",L,B,R,B,"#444",1);
  cd45Points.forEach((pts,i)=>{
    const x=cx[i],lo=Math.min(...pts),hi=Math.max(...pts);
    const dens=[];let peak=0;
    for(let k=0;k<=30;k++){
      const v=lo+(hi-lo)*k/30;
      let d=0;pts.forEach(p=>{d+=Math.exp(-.5*Math.pow((v-p)/.62,2));});
      dens.push([v,d]);peak=Math.max(peak,d);
    }
    const right=dens.map(p=>(x+p[1]/peak*5.6)+","+Y(p[0]));
    const left=dens.slice().reverse().map(p=>(x-p[1]/peak*5.6)+","+Y(p[0]));
    const poly=el("polygon",{points:right.concat(left).join(" "),fill:"#fff",stroke:"#555","stroke-width":.7},g);
    
    
    const sorted=pts.slice().sort((a,b)=>a-b);
    const q=f=>{const p=(sorted.length-1)*f,a=Math.floor(p),b=Math.ceil(p);return sorted[a]+(sorted[b]-sorted[a])*(p-a);};
    [.25,.75].forEach(f=>ln(g,"violin-quartile-line",x-3.5,Y(q(f)),x+3.5,Y(q(f)),"#bbb",.6));
    ln(g,"violin-median-line",x-5,Y(q(.5)),x+5,Y(q(.5)),"#555",.7);
    const off=swarmOffsets(pts,Y);
    pts.forEach((v,k)=>{
      const dot=el("circle",{cx:x+off[k],cy:Y(v),r:1.75,fill:"#2f7fd0",stroke:"#2b4f80","stroke-width":.5},g);
      
      
    });
  });
  yAxis(g,L,-1,cd45Ticks,Y,2,0,"#444");
  xLabels(g,cx,B);
  ln(g,"CTC-group-line",700.7,B+24.4,753,B+24.4,"#444",1);
  txt(g,"CTC-group-label",727,B+31.3,"CTC",{size:7.5,weight:"bold",fill:"#000"});
})();
</script>
</body>
</html>
